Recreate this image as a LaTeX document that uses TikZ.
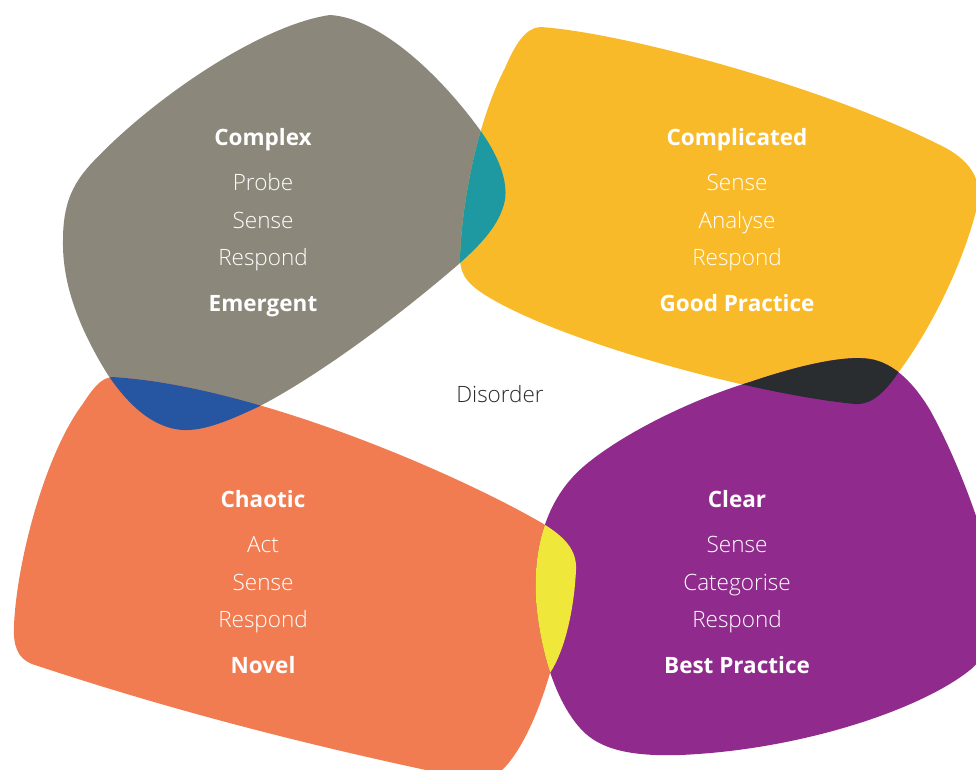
\documentclass[tikz,border=0pt]{standalone}
\usepackage{fontspec}
\setmainfont{Open Sans}[UprightFont={* Light}, BoldFont={* Bold}]
\usetikzlibrary{positioning}

\definecolor{complexgrey}{HTML}{8C877B}
\definecolor{complicatedyellow}{HTML}{F9BA29}
\definecolor{chaoticorange}{HTML}{F27C51}
\definecolor{clearpurple}{HTML}{902B8D}
\definecolor{overlapteal}{HTML}{1E99A1}
\definecolor{overlapblue}{HTML}{2655A1}
\definecolor{overlapblack}{HTML}{292D30}
\definecolor{overlapyellow}{HTML}{EFE83B}
\definecolor{disordertext}{HTML}{2B2B2B}

% blob outlines, in pixels of the page
\newcommand\complexblob{(330,15)
  .. controls (380,18) and (440,75) .. (480,130)
  .. controls (498,155) and (508,180) .. (505,200)
  .. controls (500,225) and (480,245) .. (460,263)
  .. controls (400,315) and (320,375) .. (258,407)
  .. controls (230,420) and (205,431) .. (183,430)
  .. controls (150,428) and (125,400) .. (108,375)
  .. controls (80,330) and (62,285) .. (63,240)
  .. controls (63,205) and (72,185) .. (90,165)
  .. controls (150,100) and (260,25) .. (330,15) -- cycle}
\newcommand\complicatedblob{(540,27)
  .. controls (620,32) and (820,85) .. (940,145)
  .. controls (975,162) and (985,185) .. (975,215)
  .. controls (960,270) and (930,330) .. (898,373)
  .. controls (885,392) and (872,405) .. (855,404)
  .. controls (760,395) and (570,345) .. (490,298)
  .. controls (468,285) and (460,275) .. (460,258)
  .. controls (462,200) and (478,120) .. (505,68)
  .. controls (515,45) and (525,28) .. (540,27) -- cycle}
\newcommand\chaoticblob{(112,377)
  .. controls (250,385) and (450,470) .. (542,523)
  .. controls (565,537) and (577,550) .. (576,570)
  .. controls (574,610) and (565,650) .. (550,673)
  .. controls (538,715) and (518,760) .. (495,776)
  .. controls (480,786) and (460,778) .. (440,773)
  .. controls (303,744) and (167,709) .. (32,664)
  .. controls (17,658) and (13,645) .. (14,625)
  .. controls (17,560) and (45,455) .. (82,405)
  .. controls (92,390) and (100,378) .. (112,377) -- cycle}
\newcommand\clearblob{(750,382)
  .. controls (800,365) and (845,355) .. (870,359)
  .. controls (895,363) and (915,385) .. (930,410)
  .. controls (955,455) and (980,520) .. (992,570)
  .. controls (1000,610) and (995,650) .. (970,670)
  .. controls (920,710) and (800,750) .. (680,755)
  .. controls (620,757) and (595,745) .. (580,728)
  .. controls (555,700) and (540,650) .. (536,600)
  .. controls (533,550) and (545,500) .. (583,467)
  .. controls (620,435) and (690,400) .. (750,382) -- cycle}

\begin{document}
\begin{tikzpicture}[x=1pt, y=-1pt,
    head/.style={font=\fontsize{22.5}{26}\selectfont\bfseries, text=white, inner sep=0pt, text height=16pt, text depth=5pt},
    action/.style={font=\fontsize{22.5}{26}\selectfont, text=white, inner sep=0pt, text height=16pt, text depth=5pt},
    disorder/.style={font=\fontsize{22.5}{26}\selectfont, text=disordertext, inner sep=0pt},
    node distance=16pt
]
\useasboundingbox (0,0) rectangle (976,769);
\clip (0,0) rectangle (976,769);

% domains
\fill[complexgrey] \complexblob;
\fill[complicatedyellow] \complicatedblob;
\fill[chaoticorange] \chaoticblob;
\fill[clearpurple] \clearblob;

% overlaps
\begin{scope}
  \clip \complexblob;
  \fill[overlapteal] \complicatedblob;
  \fill[overlapblue] \chaoticblob;
\end{scope}
\begin{scope}
  \clip \clearblob;
  \fill[overlapblack] \complicatedblob;
  \fill[overlapyellow] \chaoticblob;
\end{scope}

% complex
\node[head] (complex) at (263,140) {Complex};
\node[action, below=24pt of complex] (complexA) {Probe};
\node[action, below=of complexA] (complexB) {Sense};
\node[action, below=of complexB] (complexC) {Respond};
\node[head, below=24pt of complexC] (emergent) {Emergent};

% complicated
\node[head] (complicated) at (737,140) {Complicated};
\node[action, below=24pt of complicated] (complicatedA) {Sense};
\node[action, below=of complicatedA] (complicatedB) {Analyse};
\node[action, below=of complicatedB] (complicatedC) {Respond};
\node[head, below=24pt of complicatedC] (good) {Good Practice};

% chaotic
\node[head] (chaotic) at (263,502) {Chaotic};
\node[action, below=24pt of chaotic] (chaoticA) {Act};
\node[action, below=of chaoticA] (chaoticB) {Sense};
\node[action, below=of chaoticB] (chaoticC) {Respond};
\node[head, below=24pt of chaoticC] (novel) {Novel};

% clear
\node[head] (clear) at (737,502) {Clear};
\node[action, below=24pt of clear] (clearA) {Sense};
\node[action, below=of clearA] (clearB) {Categorise};
\node[action, below=of clearB] (clearC) {Respond};
\node[head, below=24pt of clearC] (best) {Best Practice};

\node[disorder] (disorderlabel) at (500,394) {Disorder};
\end{tikzpicture}
\end{document}
